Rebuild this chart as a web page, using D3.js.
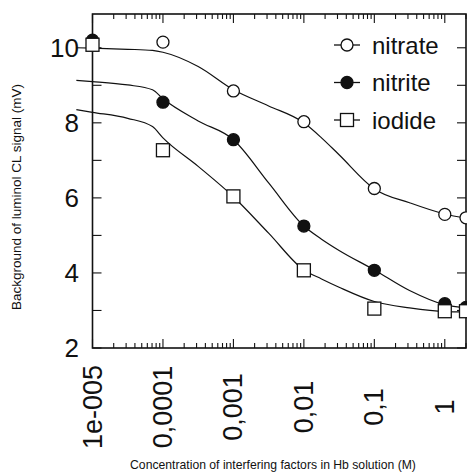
<!DOCTYPE html>
<html><head><meta charset="utf-8">
<script src="https://cdn.jsdelivr.net/npm/d3@7"></script>
<style>body{margin:0;background:#fff}svg{display:block}text{font-family:"Liberation Sans",Arial,sans-serif;fill:#111}</style>
</head><body>
<script>
// measured points
const concentrations = [1e-5, 1e-4, 1e-3, 1e-2, 1e-1, 1, 2];
const nitrate = [10.1, 10.15, 8.85, 8.03, 6.25, 5.56, 5.47];
const nitrite = [10.2, 8.55, 7.55, 5.25, 4.07, 3.18, 3.08];
const iodide  = [10.08, 7.27, 6.04, 4.07, 3.05, 2.98, 2.98];
// fitted curves
const curveX = [5.9e-6, 1e-5, 3.16e-5, 7.1e-5, 1e-4, 3.16e-4, 1e-3, 3.16e-3, 1e-2, 1.78e-2, 3.16e-2, 1e-1, 3.16e-1, 1, 2];
const nitrateFit = [10.0, 9.99, 9.96, 9.93, 9.88, 9.5, 8.88, 8.45, 8.0, 7.6, 7.15, 6.24, 5.87, 5.57, 5.46];
const nitriteFit = [9.13, 9.10, 9.01, 8.88, 8.64, 8.05, 7.55, 6.4, 5.25, 4.9, 4.6, 4.08, 3.53, 3.15, 3.07];
const iodideFit  = [8.35, 8.28, 8.12, 7.9, 7.6, 6.84, 6.03, 5.06, 4.08, 3.84, 3.62, 3.24, 3.07, 2.97, 2.96];
const xTickValues = [1e-5, 1e-4, 1e-3, 1e-2, 1e-1, 1];
const xTickLabels = ["1e-005", "0,0001", "0,001", "0,01", "0,1", "1"];
const yTickValues = [2, 4, 6, 8, 10];
const seriesNames = ["nitrate", "nitrite", "iodide"];

const W = 467, H = 475;
const L = 92.5, R = 466, T = 14, B = 348;
const svg = d3.select("body").append("svg").attr("width", W).attr("height", H);
const x = d3.scaleLog().domain([1e-5, 2]).range([L, R]);
const y = d3.scaleLinear().domain([2, 10.9]).range([B, T]);

// minor ticks
const minorX = [];
for (let e = -5; e <= 0; e++) for (let m = 1; m <= 9; m++) { const v = m * Math.pow(10, e); if (v <= 2) minorX.push(v); }
const g = svg.append("g").attr("stroke", "#111").attr("stroke-width", 1.1);
minorX.forEach(v => {
  const major = Math.abs(Math.log10(v) - Math.round(Math.log10(v))) < 1e-9;
  const len = major ? 9 : 5;
  g.append("line").attr("x1", x(v)).attr("x2", x(v)).attr("y1", B).attr("y2", B - len);
  g.append("line").attr("x1", x(v)).attr("x2", x(v)).attr("y1", T).attr("y2", T + len);
});
d3.range(2, 11).forEach(v => {
  g.append("line").attr("x1", L).attr("x2", L + 9).attr("y1", y(v)).attr("y2", y(v));
  g.append("line").attr("x1", R).attr("x2", R - 9).attr("y1", y(v)).attr("y2", y(v));
});
// frame
svg.append("rect").attr("x", L).attr("y", T).attr("width", R - L).attr("height", B - T)
  .attr("fill", "none").attr("stroke", "#111").attr("stroke-width", 1.6);

// tick labels
svg.append("g").selectAll("text").data(yTickValues).join("text")
  .attr("x", 79).attr("y", d => y(d)).attr("text-anchor", "end").attr("dominant-baseline", "central")
  .attr("font-size", 26).text(d => d);
svg.append("g").selectAll("text").data(xTickValues).join("text")
  .attr("transform", d => `translate(${x(d)},407) rotate(-90)`)
  .attr("text-anchor", "middle").attr("dominant-baseline", "central")
  .attr("font-size", 27).text((d, i) => xTickLabels[i]);

// axis titles
svg.append("text").attr("transform", "translate(16,197) rotate(-90)").attr("text-anchor", "middle")
  .attr("dominant-baseline", "central").attr("font-size", 13.5).text("Background of luminol CL signal (mV)");
svg.append("text").attr("x", 273).attr("y", 469).attr("text-anchor", "middle")
  .attr("font-size", 12.2).text("Concentration of interfering factors in Hb solution (M)");

// curves
const line = d3.line().x(d => x(d[0])).y(d => y(d[1])).curve(d3.curveMonotoneX);
[nitrateFit, nitriteFit, iodideFit].forEach(fit => {
  svg.append("path").attr("d", line(curveX.map((c, i) => [c, fit[i]])))
    .attr("fill", "none").attr("stroke", "#111").attr("stroke-width", 1.2);
});

// markers
function marker(sel, type, cx, cy) {
  if (type === "iodide") {
    sel.append("rect").attr("x", cx - 6.5).attr("y", cy - 6.5).attr("width", 13).attr("height", 13)
      .attr("fill", "#fff").attr("stroke", "#111").attr("stroke-width", 1.3);
  } else {
    sel.append("circle").attr("cx", cx).attr("cy", cy).attr("r", 6)
      .attr("fill", type === "nitrite" ? "#111" : "#fff").attr("stroke", "#111").attr("stroke-width", 1.3);
  }
}
const pts = svg.append("g");
[nitrate, nitrite, iodide].forEach((vals, si) => {
  vals.forEach((v, i) => marker(pts, seriesNames[si], x(concentrations[i]), y(v)));
});

// legend
const leg = svg.append("g");
seriesNames.forEach((name, i) => {
  const ly = 45 + i * 37.5;
  leg.append("line").attr("x1", 334).attr("x2", 360).attr("y1", ly).attr("y2", ly).attr("stroke", "#111").attr("stroke-width", 1.3);
  marker(leg, name, 347, ly);
  leg.append("text").attr("x", 372).attr("y", ly).attr("dominant-baseline", "central").attr("font-size", 24).text(name);
});
</script>
</body></html>
